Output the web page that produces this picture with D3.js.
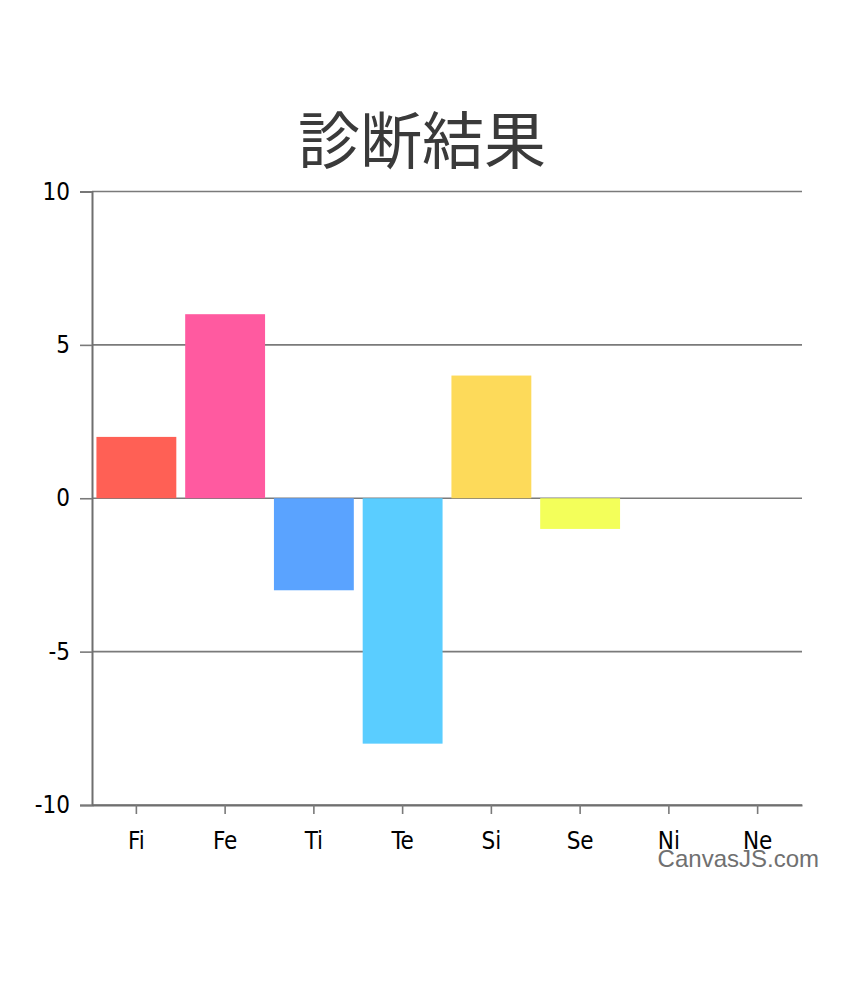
<!DOCTYPE html>
<html>
<head>
<meta charset="utf-8">
<script src="https://cdn.jsdelivr.net/npm/d3@7"></script>
<style>
  body { margin: 0; background: #fff; }
</style>
</head>
<body>
<div id="chart"></div>
<script>
let categories = ['Fi', 'Fe', 'Ti', 'Te', 'Si', 'Se', 'Ni', 'Ne'];
let values = [2, 6, -3, -8, 4, -1, 0, 0];
let colors = ['#FF6055', '#FF5AA0', '#5AA3FF', '#5ACDFF', '#FDDA5A', '#F3FF5A', '#5AFF8C', '#A05AFF'];
let yTicks = [-10, -5, 0, 5, 10];

let width = 844, height = 999;
let plotLeft = 92, plotRight = 802, plotTop = 191.5, plotBottom = 805;

let svg = d3
  .select('#chart')
  .append('svg')
  .attr('width', width)
  .attr('height', height);

let x = d3.scaleBand().domain(categories).range([plotLeft, plotRight]).paddingInner(0.1).paddingOuter(0.05);
let y = d3.scaleLinear().domain([-10, 10]).range([plotBottom, plotTop]);

// title
svg
  .append('text')
  .attr('x', 422)
  .attr('y', 164)
  .attr('text-anchor', 'middle')
  .style('font-family', '"Noto Sans CJK JP", sans-serif')
  .style('font-size', '62px')
  .style('fill', '#3a3a3a')
  .text('診断結果');

// gridlines
svg
  .append('g')
  .selectAll('line')
  .data(yTicks)
  .enter()
  .append('line')
  .attr('x1', plotLeft)
  .attr('x2', plotRight)
  .attr('y1', d => y(d))
  .attr('y2', d => y(d))
  .style('stroke', '#7a7a7a')
  .style('stroke-width', 1.6);

// bars
svg
  .append('g')
  .selectAll('rect')
  .data(values)
  .enter()
  .append('rect')
  .attr('x', (d, i) => x(categories[i]))
  .attr('width', x.bandwidth())
  .attr('y', d => y(Math.max(0, d)))
  .attr('height', d => Math.abs(y(d) - y(0)))
  .style('fill', (d, i) => colors[i]);

let axisFont = '"DejaVu Sans Condensed", "DejaVu Sans", sans-serif';

// y axis
let yAxis = svg
  .append('g')
  .attr('transform', `translate(${plotLeft},0)`)
  .call(d3.axisLeft(y).tickValues(yTicks).tickSize(12).tickPadding(10).tickFormat(d => String(d)));
yAxis.select('.domain').style('stroke', '#6f6f6f').style('stroke-width', 2);
yAxis.selectAll('.tick line').style('stroke', '#7a7a7a').style('stroke-width', 1.6);
yAxis
  .selectAll('.tick text')
  .style('font-family', axisFont)
  .style('font-size', '24px')
  .style('fill', '#000');

// x axis
let xAxis = svg
  .append('g')
  .attr('transform', `translate(0,${plotBottom})`)
  .call(d3.axisBottom(x).tickSize(9).tickPadding(18).tickSizeOuter(0));
xAxis.select('.domain').style('stroke', '#6f6f6f').style('stroke-width', 2);
xAxis.selectAll('.tick line').style('stroke', '#7a7a7a').style('stroke-width', 1.6);
xAxis
  .selectAll('.tick text')
  .style('font-family', axisFont)
  .style('font-size', '24px')
  .style('fill', '#000');

// credit
svg
  .append('text')
  .attr('x', 819)
  .attr('y', 867)
  .attr('text-anchor', 'end')
  .style('font-family', '"Liberation Sans", Arial, sans-serif')
  .style('font-size', '24px')
  .style('fill', '#707070')
  .text('CanvasJS.com');
</script>
</body>
</html>
